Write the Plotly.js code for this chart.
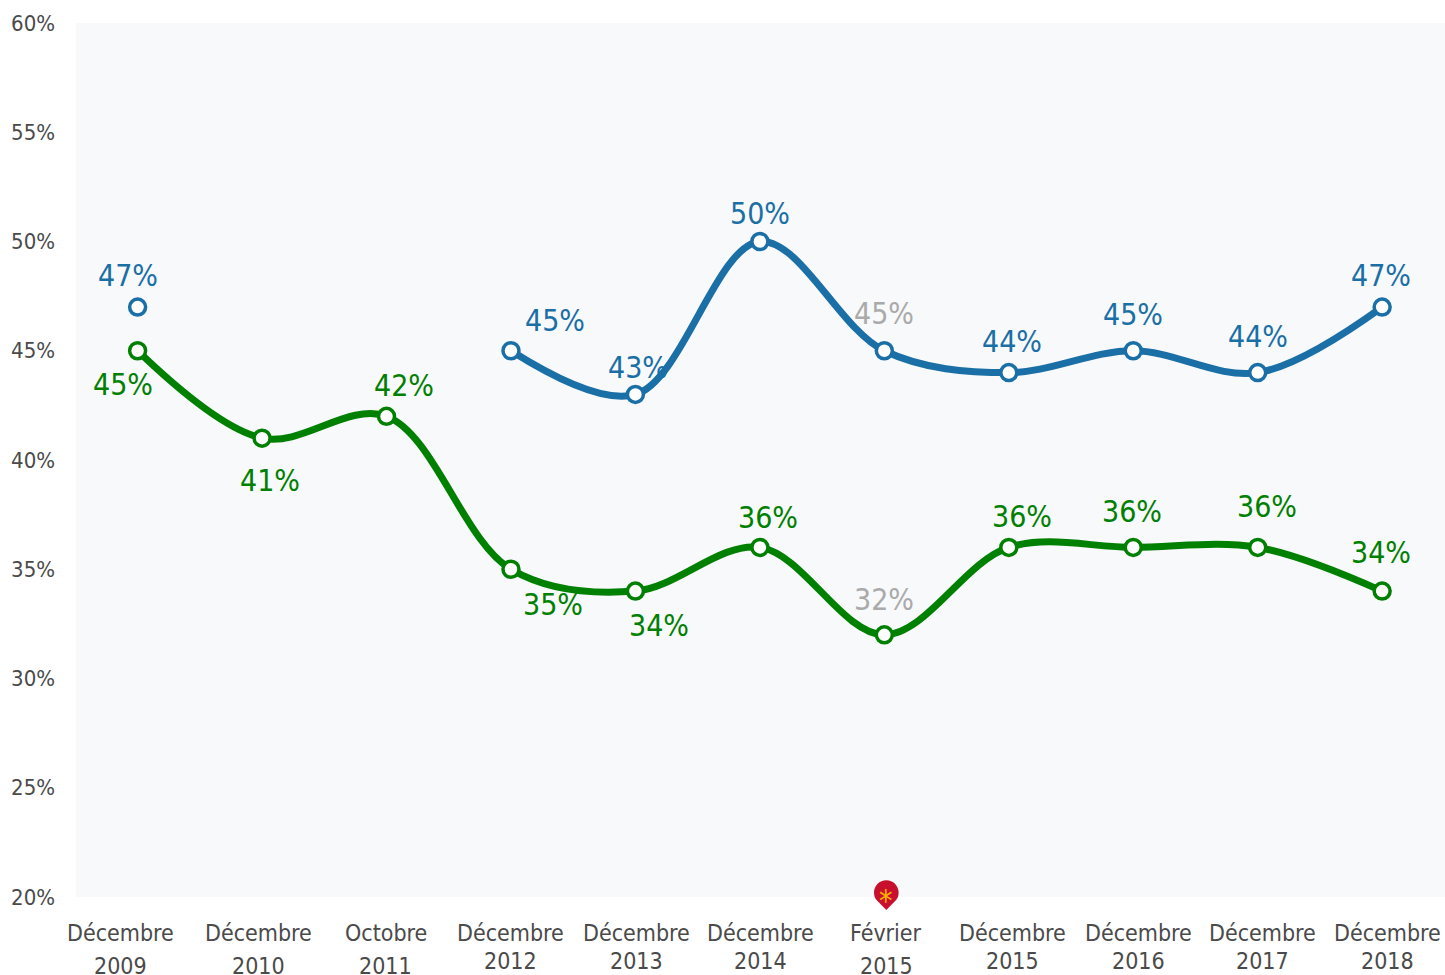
<!DOCTYPE html>
<html>
<head>
<meta charset="utf-8">
<script src="https://cdn.plot.ly/plotly-3.0.1.min.js"></script>
<style>html,body{margin:0;padding:0;background:#fff;overflow:hidden}</style>
</head>
<body>
<div id="chart" style="width:1445px;height:975px"></div>
<script>
const months = ["Décembre","Décembre","Octobre","Décembre","Décembre","Décembre","Février","Décembre","Décembre","Décembre","Décembre"];
const years = ["2009","2010","2011","2012","2013","2014","2015","2015","2016","2017","2018"];
const blueValues = [47,null,null,45,43,50,45,44,45,44,47];
const greenValues = [45,41,42,35,34,36,32,36,36,36,34];
const yTicks = [20,25,30,35,40,45,50,55,60];

// Label placement, in pixels from each point
const blueDx = [-10,0,0,44,3,0,0,3,0,0,-1];
const blueDy = [-32,0,0,-30,-27,-28,-37,-31,-36,-36,-32];
const greenDx = [-15,8,17,42,24,8,0,13,-1,9,-1];
const greenDy = [34,42,-31,35,34,-30,-35,-31,-36,-41,-39];
const monthDx = [-17,-4,-1,0,1,1,2,4,5,5,5];
const yearDy = [33,33,33,28,28,28,33,28,28,28,28];

const BLUE = "#1a6fa6", GREEN = "#008000", GREY = "#aaaaaa", TEXT = "#4a4a4a";
const FONT = '"DejaVu Sans Condensed", "DejaVu Sans", sans-serif';
const idx = years.map((_, i) => i);

function series(values, color) {
  return {
    x: idx, y: values, mode: "lines+markers", type: "scatter",
    connectgaps: false, cliponaxis: false, hoverinfo: "skip",
    line: {color, width: 7, shape: "spline", smoothing: 1},
    marker: {color: "#ffffff", size: 16, line: {color, width: 3.5}}
  };
}
function labels(values, color, dx, dy) {
  const out = [];
  values.forEach((v, i) => {
    if (v === null) return;
    out.push({
      x: i, y: v, xref: "x", yref: "y", text: v + "%", showarrow: false,
      xshift: dx[i], yshift: -dy[i], xanchor: "center", yanchor: "middle",
      font: {family: FONT, size: 30, color: i === 6 ? GREY : color}
    });
  });
  return out;
}
const axisLabels = [];
months.forEach((m, i) => {
  axisLabels.push({x: i, y: 0, xref: "x", yref: "paper", text: m, showarrow: false,
    xshift: monthDx[i], yshift: -35.5, xanchor: "center", yanchor: "middle",
    font: {family: FONT, size: 23, color: TEXT}});
  axisLabels.push({x: i, y: 0, xref: "x", yref: "paper", text: years[i], showarrow: false,
    xshift: monthDx[i], yshift: -35.5 - yearDy[i], xanchor: "center", yanchor: "middle",
    font: {family: FONT, size: 23, color: TEXT}});
});
const pin = {
  type: "path", xref: "x", yref: "paper", xsizemode: "pixel", ysizemode: "pixel",
  xanchor: 6, yanchor: 0, layer: "above", fillcolor: "#c8102e", line: {width: 0},
  path: "M 2 -13 L -7.1 -3.8 C -9.3 -1.6 -10.3 1 -10.3 4.5 C -10.3 11.3 -4.8 16.8 2 16.8 C 8.8 16.8 14.3 11.3 14.3 4.5 C 14.3 1 13.3 -1.6 11.1 -3.8 Z"
};
const star = {x: 6, y: 0, xref: "x", yref: "paper", text: "*", showarrow: false,
  xshift: 2, yshift: -3, xanchor: "center", yanchor: "middle",
  font: {family: FONT, size: 30, color: "#f5b400"}};

Plotly.newPlot("chart", [series(blueValues, BLUE), series(greenValues, GREEN)], {
  width: 1445, height: 975, showlegend: false,
  margin: {l: 76, r: 0, t: 22.5, b: 77.5},
  paper_bgcolor: "#ffffff", plot_bgcolor: "#f8f9fb",
  xaxis: {range: [-0.495, 10.505], tickmode: "array", tickvals: idx, ticktext: years.map(() => ""),
    showgrid: false, zeroline: false, showline: false, ticks: ""},
  yaxis: {range: [20, 60], tickmode: "array", tickvals: yTicks, ticktext: yTicks.map(v => v + "%"),
    showgrid: false, zeroline: false, showline: false, ticks: "outside", ticklen: 15.5,
    tickcolor: "rgba(0,0,0,0)", tickfont: {family: FONT, size: 22, color: TEXT}},
  shapes: [pin],
  annotations: [...labels(blueValues, BLUE, blueDx, blueDy), ...labels(greenValues, GREEN, greenDx, greenDy), ...axisLabels, star]
}, {displayModeBar: false, staticPlot: true});
</script>
</body>
</html>
